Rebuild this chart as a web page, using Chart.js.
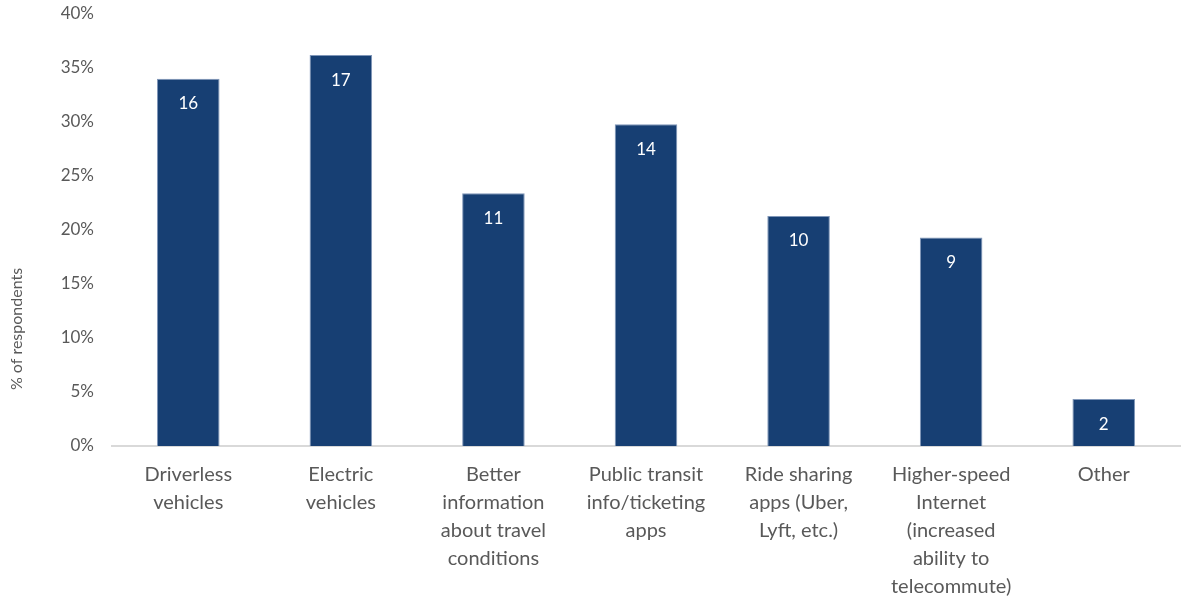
<!DOCTYPE html>
<html>
<head>
<meta charset="utf-8">
<script src="https://cdn.jsdelivr.net/npm/chart.js@4"></script>
<style>
  html,body{ margin:0; padding:0; background:#fff; }
  #wrap{ width:1181px; height:602px; position:relative; }
</style>
</head>
<body>
<div id="wrap"><canvas id="chart"></canvas></div>
<script>
const categories = [
  ["Driverless","vehicles"],
  ["Electric","vehicles"],
  ["Better","information","about travel","conditions"],
  ["Public transit","info/ticketing","apps"],
  ["Ride sharing","apps (Uber,","Lyft, etc.)"],
  ["Higher-speed","Internet","(increased","ability to","telecommute)"],
  ["Other"]
];
const percentValues = [34.0, 36.2, 23.4, 29.8, 21.3, 19.3, 4.35];
const countLabels = [16, 17, 11, 14, 10, 9, 2];
const yTitle = "% of respondents";

const FONT = "Lato, 'Open Sans', sans-serif";

// count labels inside the top of each bar
const barLabels = {
  id:"barLabels",
  afterDatasetsDraw(chart){
    const ctx = chart.ctx;
    const meta = chart.getDatasetMeta(0);
    ctx.save();
    ctx.fillStyle = "#ffffff";
    ctx.font = "17px " + FONT;
    ctx.textAlign = "center";
    ctx.textBaseline = "middle";
    meta.data.forEach((bar,i) => {
      ctx.fillText(String(countLabels[i]), bar.x, bar.y + 25);
    });
    ctx.restore();
  }
};

// y title sits lower than the plot centre in the original
const sideTitle = {
  id:"sideTitle",
  afterDraw(chart){
    const ctx = chart.ctx;
    ctx.save();
    ctx.translate(17, 329);
    ctx.rotate(-Math.PI / 2);
    ctx.fillStyle = "#595959";
    ctx.font = "16px " + FONT;
    ctx.textAlign = "center";
    ctx.textBaseline = "middle";
    ctx.fillText(yTitle, 0, 0);
    ctx.restore();
  }
};

new Chart(document.getElementById("chart"),{
  type:"bar",
  data:{
    labels:categories,
    datasets:[{
      data:percentValues,
      backgroundColor:"#173f73",
      borderColor:"#7f96b8",
      borderWidth:1,
      barPercentage:0.41,
      categoryPercentage:1
    }]
  },
  options:{
    responsive:true,
    maintainAspectRatio:false,
    animation:false,
    layout:{ padding:{ top:14, right:1, left:4, bottom:0 } },
    plugins:{
      legend:{ display:false },
      tooltip:{ enabled:false }
    },
    scales:{
      x:{
        grid:{ display:false },
        border:{ display:true, color:"#d9d9d9", width:2 },
        ticks:{
          color:"#595959",
          maxRotation:0,
          autoSkip:false,
          padding:7,
          font:{ family:FONT, size:20, lineHeight:1.4 }
        },
        afterFit(scale){ scale.height = 156; }
      },
      y:{
        min:0,
        max:40,
        grid:{ display:false },
        border:{ display:false },
        ticks:{
          stepSize:5,
          color:"#595959",
          padding:10,
          font:{ family:FONT, size:17 },
          callback:v => v + "%"
        },
        afterFit(scale){
          scale.width = 108;
          scale.paddingTop = 0;
          scale.paddingBottom = 0;
        }
      }
    }
  },
  plugins:[barLabels, sideTitle]
});
</script>
</body>
</html>
